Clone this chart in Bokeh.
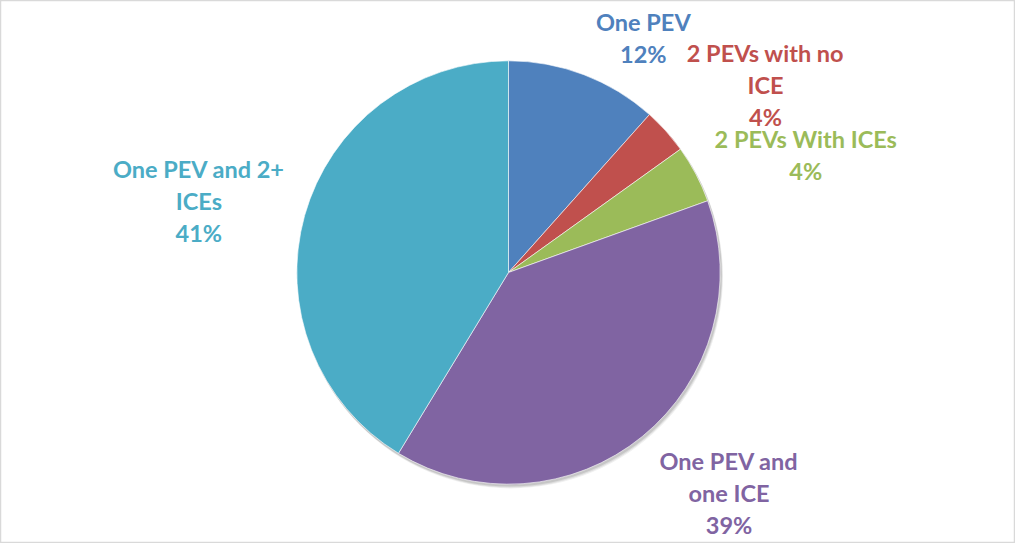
import math
from bokeh.plotting import figure
from bokeh.models import Range1d, ColumnDataSource
from bokeh.core.properties import value
from bokeh.embed import file_html
from bokeh.resources import INLINE

# ---- data ----
categories = ["One PEV", "2 PEVs with no ICE", "2 PEVs With ICEs",
              "One PEV and one ICE", "One PEV and 2+ ICEs"]
shares = [11.6, 3.5, 4.4, 39.2, 41.3]
colors = ["#4F81BD", "#C0504D", "#9BBB59", "#8064A2", "#4BACC6"]
label_lines = [["One PEV"], ["2 PEVs with no", "ICE"], ["2 PEVs With ICEs"],
               ["One PEV and", "one ICE"], ["One PEV and 2+", "ICEs"]]

# ---- layout (reference-pixel coords, y measured from top) ----
W, H = 1015, 543
RW, RH = 1031, 559
cx, cy, R = 516, 280, 215
label_anchor = [(653, 22), (777, 54), (818, 142.5), (740, 474), (201.5, 173)]
line_gap = 33

def Y(y):
    return RH - y

p = figure(width=W, height=H, output_backend="svg", toolbar_location=None,
           x_range=Range1d(0, RW), y_range=Range1d(0, RH),
           min_border=0)
p.axis.visible = False
p.grid.visible = False
p.outline_line_color = "#D9D9D9"
p.outline_line_width = 1.5
p.background_fill_color = "white"
p.border_fill_color = "white"

total = sum(shares)
starts, ends = [], []
cum = 0.0
for v in shares:
    starts.append(math.pi / 2 - 2 * math.pi * cum / total)
    cum += v
    ends.append(math.pi / 2 - 2 * math.pi * cum / total)

# soft shadow
for k, a in [(4, 0.06), (3, 0.08), (2, 0.10)]:
    p.circle(x=[cx + k * 0.6], y=[Y(cy) - k], radius=R + 0.5, fill_color="black",
             fill_alpha=a, line_color=None)

src = ColumnDataSource(dict(start=starts, end=ends, color=colors))
p.wedge(x=cx, y=Y(cy), radius=R, start_angle="start", end_angle="end",
        direction="clock", fill_color="color", line_color="white",
        line_width=0.6, source=src)

tx, ty, tt, tc = [], [], [], []
for i, lines in enumerate(label_lines):
    ax, ay = label_anchor[i]
    allines = lines + [f"{round(shares[i])}%"]
    for j, ln in enumerate(allines):
        tx.append(ax)
        ty.append(Y(ay + j * line_gap))
        tt.append(ln)
        tc.append(colors[i])

p.text(x=tx, y=ty, text=tt, text_color=tc, text_align="center",
       text_baseline="middle", text_font=value("Lato"),
       text_font_style="bold", text_font_size="23.5px")

open("out.html", "w").write(file_html(p, INLINE))
